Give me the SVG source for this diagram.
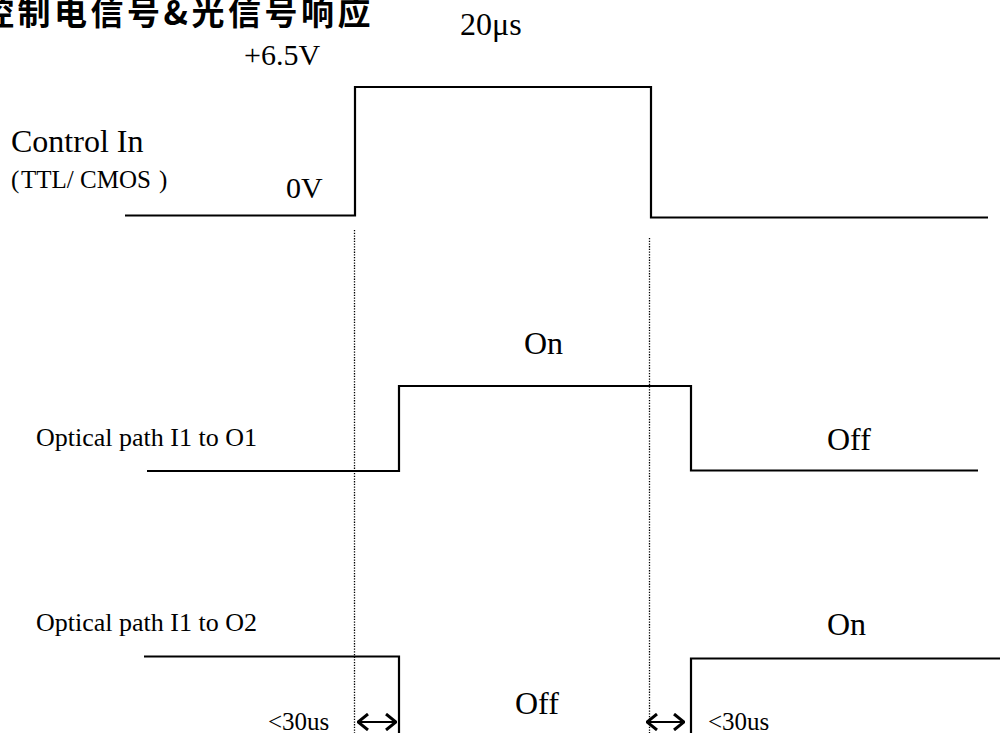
<svg xmlns="http://www.w3.org/2000/svg" width="1000" height="733" viewBox="0 0 1000 733">
<defs>
<style>
.t{font-family:"Liberation Serif","Times New Roman",serif;fill:#000}
.sig{fill:none;stroke:#000;stroke-width:2.2}
.dot{fill:none;stroke:#000;stroke-width:1.3;stroke-dasharray:1.3 1.4}
.arr{fill:none;stroke:#000;stroke-width:2.2}
.title{font-family:"Noto Sans CJK SC",sans-serif;font-weight:bold;font-size:33px;letter-spacing:3.5px;fill:#000}
</style>
<marker id="chev" viewBox="0 0 12 18" markerWidth="12" markerHeight="18" refX="11" refY="9" orient="auto-start-reverse" markerUnits="userSpaceOnUse">
<polyline points="1,1 11,9 1,17" fill="none" stroke="#000" stroke-width="3"/>
</marker>
</defs>
<rect width="1000" height="733" fill="#fff"/>
<text class="title" x="-19" y="25">控制电信号&amp;光信号响应</text>
<g id="connectors">
<line class="dot" x1="354.5" y1="230" x2="354.5" y2="733"/>
<line class="dot" x1="649.5" y1="238" x2="649.5" y2="733"/>
<line class="arr" x1="358" y1="722" x2="396" y2="722" marker-start="url(#chev)" marker-end="url(#chev)"/>
<line class="arr" x1="647" y1="722" x2="684" y2="722" marker-start="url(#chev)" marker-end="url(#chev)"/>
</g>
<g id="control-in">
<polyline class="sig" points="125,215.5 355,215.5 355,87 651,87 651,217.5 988,217.5"/>
<text class="t" x="460" y="35" font-size="32">20μs</text>
<text class="t" x="244" y="65" font-size="30">+6.5V</text>
<text class="t" x="11" y="152" font-size="32">Control In</text>
<text class="t" y="188" font-size="25"><tspan x="11">(</tspan><tspan x="21">TTL/ CMOS</tspan><tspan x="159">)</tspan></text>
<text class="t" x="286" y="198" font-size="30">0V</text>
</g>
<g id="optical-o1">
<polyline class="sig" points="147,471 399,471 399,386 691,386 691,470.5 978,470.5"/>
<text class="t" x="524" y="354" font-size="32">On</text>
<text class="t" x="36" y="446" font-size="26">Optical path I1 to O1</text>
<text class="t" x="827" y="450" font-size="32">Off</text>
</g>
<g id="optical-o2">
<polyline class="sig" points="144,656.5 399,656.5 399,733"/>
<polyline class="sig" points="691,733 691,658.5 1000,658.5"/>
<text class="t" x="36" y="631" font-size="26">Optical path I1 to O2</text>
<text class="t" x="827" y="635" font-size="32">On</text>
<text class="t" x="515" y="714" font-size="32">Off</text>
<text class="t" x="268" y="730" font-size="25">&lt;30us</text>
<text class="t" x="708" y="730" font-size="25">&lt;30us</text>
</g>
</svg>
